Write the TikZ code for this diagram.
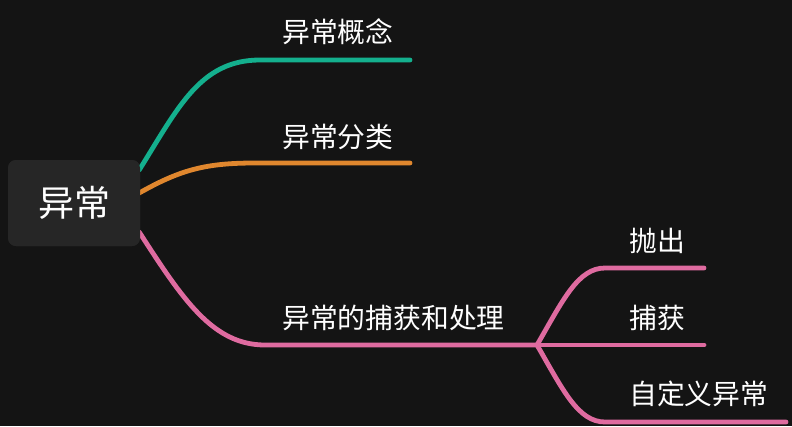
\documentclass[tikz,border=0pt]{standalone}
\usepackage{fontspec}
\setmainfont{Noto Sans CJK SC}
\usetikzlibrary{calc}
\definecolor{bg}{HTML}{141414}
\definecolor{rootfill}{HTML}{262626}
\definecolor{cgreen}{HTML}{14B08E}
\definecolor{corange}{HTML}{E0872E}
\definecolor{cpink}{HTML}{DF6BA0}
\begin{document}
\begin{tikzpicture}[x=1pt,y=-1pt,
  branch/.style={line width=4.8pt, line cap=round},
  lbl/.style={anchor=base west, inner sep=0pt, text=white, font=\fontsize{27.8}{28}\selectfont},
  rootbox/.style={fill=rootfill, rounded corners=8pt, minimum width=132pt, minimum height=86pt, inner sep=0pt, text=white, font=\fontsize{36}{36}\selectfont}]
\fill[bg] (0,0) rectangle (792,426);
\useasboundingbox (0,0) rectangle (792,426);
\node[rootbox] (root) at (74,203) {};
% end points
\coordinate (gEnd) at (410,60);
\coordinate (oEnd) at (410,163);
\coordinate (pj) at (537,345);
\coordinate (s1End) at (704,268);
\coordinate (s2End) at (704,345);
\coordinate (s3End) at (786,422);
% branches
\draw[branch, cgreen] ($(root.east)+(-1,-33)$) .. controls (178,108) and (200,60) .. (260,60) -- (gEnd);
\draw[branch, corange] ($(root.east)+(-1,-10)$) .. controls (180,170) and (205,163) .. (255,163) -- (oEnd);
\draw[branch, cpink] ($(root.east)+(-1,29)$) .. controls (183,300) and (213,345) .. (265,345) -- (pj);
\draw[branch, cpink] (pj) .. controls (563,300) and (578,268) .. (605,268) -- (s1End);
\draw[branch, cpink] (pj) -- (s2End);
\draw[branch, cpink] (pj) .. controls (563,390) and (578,422) .. (605,422) -- (s3End);
\node[rootbox] (rootlabel) at (root.center) {异常};
% labels
\node[lbl] (l1) at (282,42) {异常概念};
\node[lbl] (l2) at (282,147) {异常分类};
\node[lbl] (l3) at (282,328) {异常的捕获和处理};
\node[lbl] (l4) at (629,251) {抛出};
\node[lbl] (l5) at (629,328) {捕获};
\node[lbl] (l6) at (629,404) {自定义异常};
\end{tikzpicture}
\end{document}
